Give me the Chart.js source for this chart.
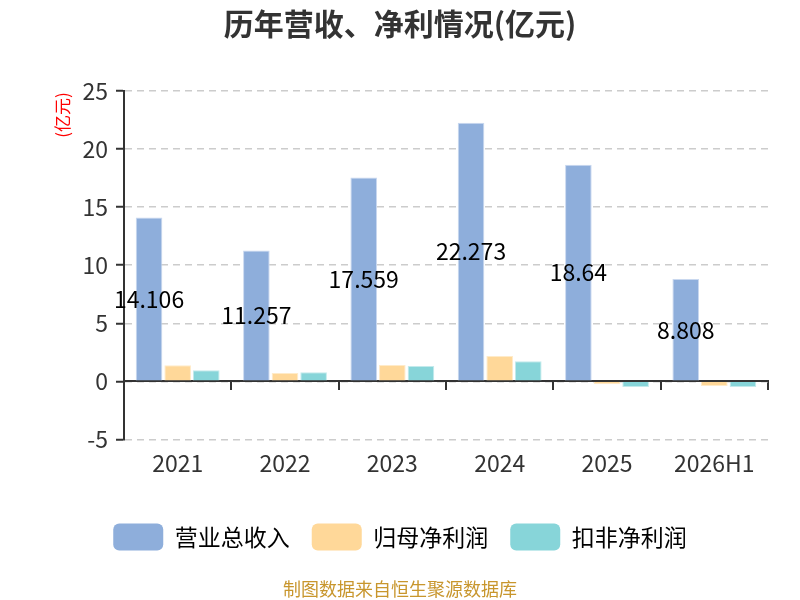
<!DOCTYPE html>
<html>
<head>
<meta charset="utf-8">
<script src="https://cdn.jsdelivr.net/npm/chart.js@4/dist/chart.umd.min.js"></script>
<style>
  html, body { margin: 0; padding: 0; background: #fff; }
</style>
</head>
<body>
<canvas id="myChart" width="800" height="600"></canvas>
<script>
const FONT = "'Noto Sans CJK SC', 'Noto Sans', sans-serif";

const years = ["2021", "2022", "2023", "2024", "2025", "2026H1"];
const revenue = [14.106, 11.257, 17.559, 22.273, 18.64, 8.808];
const netProfit = [1.38, 0.72, 1.40, 2.18, -0.26, -0.40];
const deductedProfit = [0.95, 0.78, 1.32, 1.72, -0.49, -0.49];
const yTicks = [-5, 0, 5, 10, 15, 20, 25];

// y-axis unit and the value labels on the revenue bars
const extras = {
	id: "extras",
	afterDatasetsDraw: (chart) => {
		const ctx = chart.ctx;
		ctx.save();
		ctx.fillStyle = "#000";
		ctx.font = "23px " + FONT;
		ctx.textAlign = "center";
		ctx.textBaseline = "middle";
		chart.getDatasetMeta(0).data.forEach((bar, i) => {
			ctx.fillText(String(revenue[i]), bar.x, (bar.y + bar.base) / 2);
		});
		ctx.restore();
	},
	afterDraw: (chart) => {
		const ctx = chart.ctx;
		ctx.save();
		ctx.translate(63, 115);
		ctx.rotate(-Math.PI / 2);
		ctx.textAlign = "center";
		ctx.textBaseline = "middle";
		ctx.fillStyle = "#ff0000";
		ctx.font = "17px " + FONT;
		ctx.fillText("(亿元)", 0, 0);
		ctx.restore();
	}
};

const bar = (label, data, color, border) => ({
	label: label,
	data: data,
	xAxisID: "x",
	backgroundColor: color,
	borderColor: border,
	borderWidth: 1,
	categoryPercentage: 0.8,
	barPercentage: 0.93
});

new Chart(document.getElementById("myChart"), {
	type: "bar",
	data: {
		labels: years,
		datasets: [
			bar("营业总收入", revenue, "#8eaedb", "#c9d8ef"),
			bar("归母净利润", netProfit, "#ffd899", "#ffebc9"),
			bar("扣非净利润", deductedProfit, "#87d5d9", "#c3eaec")
		]
	},
	options: {
		responsive: false,
		animation: false,
		layout: { padding: { left: 32, right: 32, top: 0, bottom: 0 } },
		plugins: {
			title: {
				display: true,
				text: "历年营收、净利情况(亿元)",
				color: "#333",
				font: { size: 30, weight: "bold", family: FONT },
				padding: { top: 6, bottom: 49 }
			},
			subtitle: {
				display: true,
				position: "bottom",
				text: "制图数据来自恒生聚源数据库",
				color: "#c8962d",
				font: { size: 18, family: FONT },
				padding: { top: 18, bottom: 0 }
			},
			tooltip: { enabled: false },
			legend: {
				position: "bottom",
				labels: {
					boxWidth: 50,
					boxHeight: 27,
					padding: 22,
					color: "#333",
					font: { size: 23, family: FONT },
					generateLabels: (chart) =>
						chart.data.datasets.map((ds, i) => ({
							text: ds.label,
							fillStyle: ds.backgroundColor,
							strokeStyle: ds.backgroundColor,
							lineWidth: 0,
							borderRadius: 6,
							datasetIndex: i
						}))
				}
			}
		},
		scales: {
			x: {
				type: "category",
				offset: true,
				grid: { display: false, drawTicks: false },
				border: { display: false },
				ticks: { color: "#333", padding: 10, font: { size: 23, family: FONT } },
				afterFit: (scale) => { scale.height = 62; }
			},
			x2: {
				type: "category",
				position: { y: 0 },
				offset: true,
				grid: {
					offset: true,
					drawOnChartArea: false,
					drawTicks: true,
					tickLength: 8,
					color: "#333",
					lineWidth: 2
				},
				border: { display: true, color: "#333", width: 2 },
				ticks: { display: false }
			},
			y: {
				min: -5,
				max: 25,
				afterBuildTicks: (scale) => {
					scale.ticks = yTicks.map((v) => ({ value: v }));
				},
				afterFit: (scale) => { scale.width = 92; },
				grid: {
					color: "#cccccc",
					lineWidth: 1.5,
					tickLength: 8,
					tickColor: "#333",
					tickWidth: 2,
					tickBorderDash: []
				},
				border: { display: true, color: "#333", width: 2, dash: [7, 5] },
				ticks: { color: "#333", padding: 8, font: { size: 23, family: FONT } }
			}
		}
	},
	plugins: [extras]
});
</script>
</body>
</html>
